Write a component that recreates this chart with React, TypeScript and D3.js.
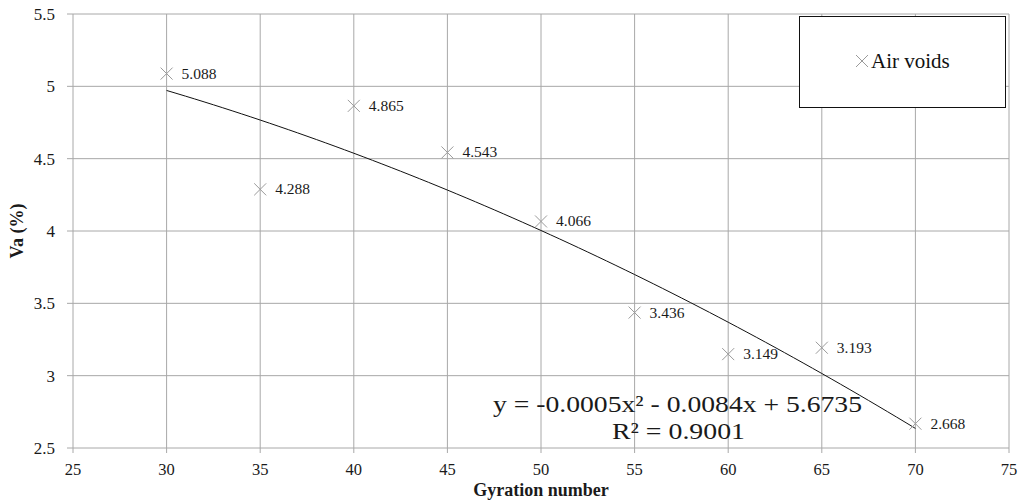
import * as d3 from 'd3';
import React from 'react';

// gyration number vs air voids
const gyrations = [30, 35, 40, 45, 50, 55, 60, 65, 70];
const airVoids = [5.088, 4.288, 4.865, 4.543, 4.066, 3.436, 3.149, 3.193, 2.668];
const xTicks = [25, 30, 35, 40, 45, 50, 55, 60, 65, 70, 75];
const yTicks = [2.5, 3, 3.5, 4, 4.5, 5, 5.5];
// polynomial trendline coefficients (a, b, c) as printed on the chart
const trendCoef = [-0.0005, -0.0084, 5.6735];
const trendLabel = 'y = -0.0005x² - 0.0084x + 5.6735';
const r2Label = 'R² = 0.9001';

const font = 'Liberation Serif, DejaVu Serif, serif';

export default function App() {
    const width = 1020;
    const height = 503;
    const margin = { top: 14, right: 11, bottom: 55, left: 73 };

    const x = d3.scaleLinear().domain([25, 75]).range([margin.left, width - margin.right]);
    const y = d3.scaleLinear().domain([2.5, 5.5]).range([height - margin.bottom, margin.top]);

    const points = gyrations.map((g, i) => ({ g, v: airVoids[i] }));

    const trendXs = d3.range(30, 70.01, 0.5);
    const line = d3.line<number>()
        .x((d) => x(d))
        .y((d) => y(trendCoef[0] * d * d + trendCoef[1] * d + trendCoef[2]));

    const grid = '#a8a8a8';
    const mk = 6;
    const txt = '#1a1a1a';

    return (
        <svg width={width} height={height} style={{ display: 'block', position: 'absolute', left: 0, top: 0, fontFamily: font }}>
            <rect width={width} height={height} fill="white" />

            {/* grid */}
            {yTicks.map((t) => (
                <line key={'gy' + t} x1={x(25) - 6} x2={x(75)} y1={y(t)} y2={y(t)} stroke={grid} strokeWidth={1} />
            ))}
            {xTicks.map((t) => (
                <line key={'gx' + t} x1={x(t)} x2={x(t)} y1={y(5.5)} y2={y(2.5) + 5} stroke={grid} strokeWidth={1} />
            ))}

            {/* tick labels */}
            {yTicks.map((t) => (
                <text key={'ty' + t} x={x(25) - 18} y={y(t) + 6} textAnchor="end"
                    style={{ fontFamily: font }} fontSize={17} fill={txt}>{t}</text>
            ))}
            {xTicks.map((t) => (
                <text key={'tx' + t} x={x(t)} y={y(2.5) + 27} textAnchor="middle"
                    style={{ fontFamily: font }} fontSize={16.5} fill={txt}>{t}</text>
            ))}

            {/* axis titles */}
            <text x={541} y={496} textAnchor="middle" style={{ fontFamily: font }} fontSize={18}
                fontWeight="bold" fill={txt}>Gyration number</text>
            <text transform={`translate(23,${(y(5.5) + y(2.5)) / 2})rotate(-90)`} textAnchor="middle"
                style={{ fontFamily: font }} fontSize={18} fontWeight="bold" fill={txt}>Va (%)</text>

            {/* trendline */}
            <path d={line(trendXs) || ''} fill="none" stroke="#111" strokeWidth={1} />

            {/* markers + labels */}
            {points.map((p) => (
                <g key={'p' + p.g}>
                    <path d={`M${x(p.g) - mk},${y(p.v) - mk}L${x(p.g) + mk},${y(p.v) + mk}M${x(p.g) - mk},${y(p.v) + mk}L${x(p.g) + mk},${y(p.v) - mk}`}
                        stroke="#9a9a9a" strokeWidth={1} fill="none" />
                    <text x={x(p.g) + 15} y={y(p.v) + 5} style={{ fontFamily: font }} fontSize={15.5} fill={txt}>
                        {p.v.toFixed(3)}
                    </text>
                </g>
            ))}

            {/* equation, stretched sideways like the original */}
            <text x={493} y={412} textLength={369} lengthAdjust="spacingAndGlyphs"
                style={{ fontFamily: font }} fontSize={23} fill={txt}>{trendLabel}</text>
            <text x={612} y={439} textLength={133} lengthAdjust="spacingAndGlyphs"
                style={{ fontFamily: font }} fontSize={23} fill={txt}>{r2Label}</text>

            {/* legend */}
            <rect x={799.5} y={16.5} width={206} height={91} fill="white" stroke="#111" strokeWidth={1} />
            <path d={`M${862 - 6},${61 - 6}L${862 + 6},${61 + 6}M${862 - 6},${61 + 6}L${862 + 6},${61 - 6}`}
                stroke="#9a9a9a" strokeWidth={1} />
            <text x={871} y={68} style={{ fontFamily: font }} fontSize={21} fill="#111">Air voids</text>
        </svg>
    );
}
